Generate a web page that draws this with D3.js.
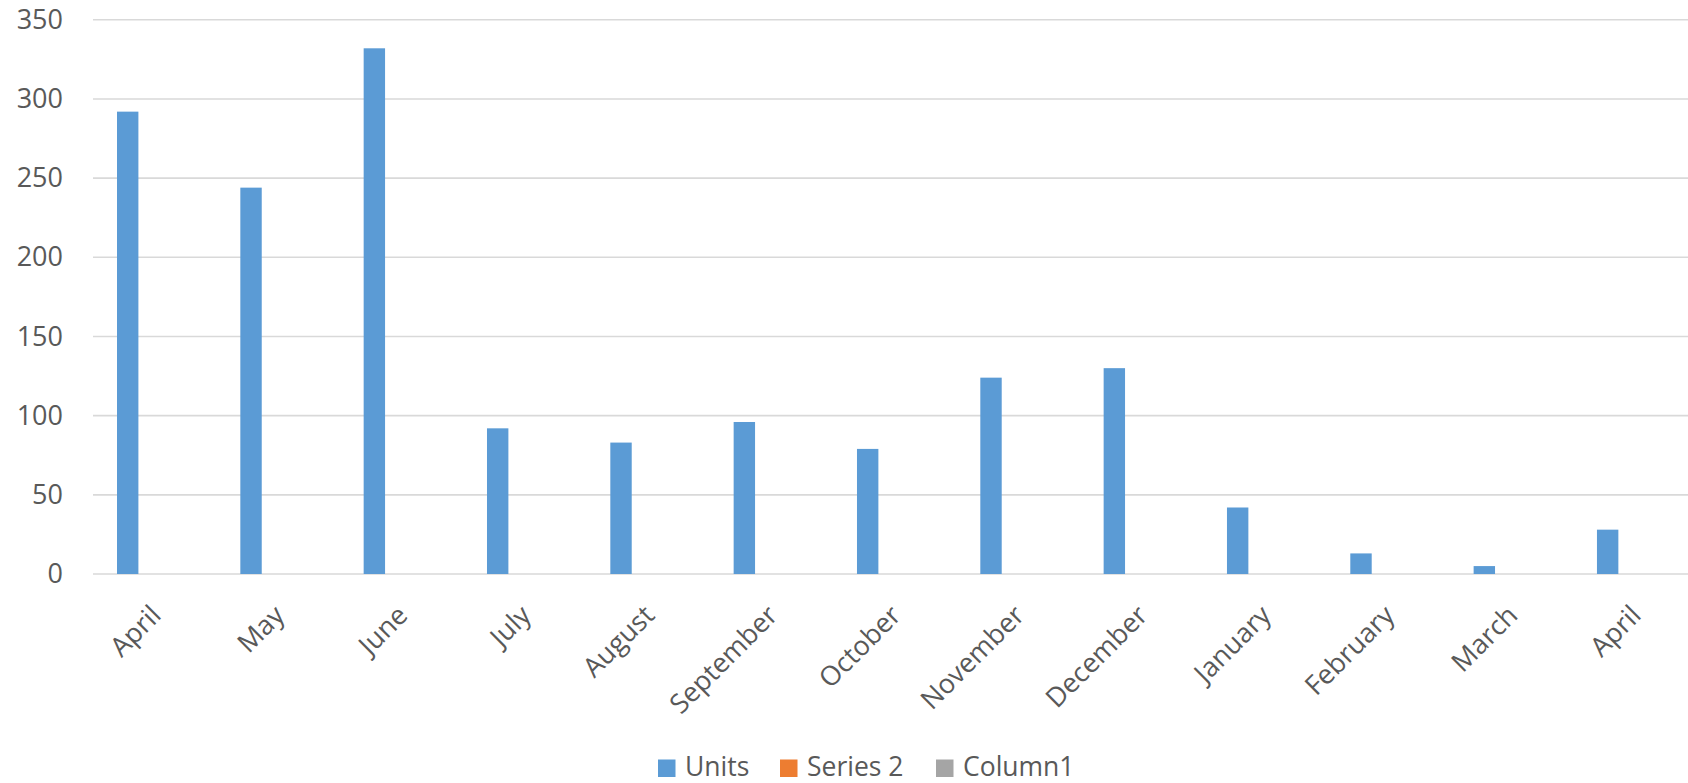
<!DOCTYPE html>
<html>
<head>
<meta charset="utf-8">
<script src="https://cdn.jsdelivr.net/npm/d3@7"></script>
<style>
  html, body { margin: 0; padding: 0; background: #fff; }
  svg { display: block; font-family: "Open Sans", Lato, sans-serif; }
</style>
</head>
<body>
<svg id="chart" width="1688" height="783"></svg>
<script>
const categories = ["April","May","June","July","August","September","October","November","December","January","February","March","April"];
const units = [292, 244, 332, 92, 83, 96, 79, 124, 130, 42, 13, 5, 28];
const series2 = [null, null, null, null, null, null, null, null, null, null, null, null, null];
const column1 = [null, null, null, null, null, null, null, null, null, null, null, null, null];
const seriesNames = ["Units", "Series 2", "Column1"];
const seriesColors = ["#5b9bd5", "#ed7d31", "#a5a5a5"];
const yTicks = [0, 50, 100, 150, 200, 250, 300, 350];

const svg = d3.select("#chart");
const plotLeft = 93, plotTop = 19.8, plotBottom = 574;
const band = 123.33;
const fontFam = "'Open Sans', Lato, sans-serif";

const x0 = d3.scaleBand().domain(d3.range(categories.length))
  .range([plotLeft, plotLeft + band * categories.length]).padding(0);
const x1 = d3.scaleBand().domain(seriesNames).range([24, 24 + 21.4 * 3]).padding(0);
const y = d3.scaleLinear().domain([0, 350]).range([plotBottom, plotTop]);

// gridlines
svg.append("g").selectAll("line").data(yTicks).join("line")
  .attr("x1", plotLeft).attr("x2", 1688)
  .attr("y1", d => y(d)).attr("y2", d => y(d))
  .attr("stroke", "#d9d9d9").attr("stroke-width", 1.6);

// y axis labels
const yAxis = d3.axisLeft(y).tickValues(yTicks).tickSize(0).tickPadding(0);
const gy = svg.append("g").attr("transform", "translate(63,0)").call(yAxis);
gy.select(".domain").remove();
gy.selectAll("text").attr("fill", "#595959").style("font-size", "27px")
  .style("font-family", fontFam);

// bars
const allSeries = [units, series2, column1];
allSeries.forEach((vals, si) => {
  svg.append("g").selectAll("rect")
    .data(vals.map((v, i) => ({ v, i })).filter(d => d.v != null))
    .join("rect")
    .attr("x", d => x0(d.i) + x1(seriesNames[si]))
    .attr("width", x1.bandwidth())
    .attr("y", d => y(d.v))
    .attr("height", d => y(0) - y(d.v))
    .attr("fill", seriesColors[si]);
});

// x labels
svg.append("g").selectAll("text").data(categories).join("text")
  .attr("transform", (d, i) => `translate(${x0(i) + band / 2 + 8},${617}) rotate(-45)`)
  .attr("text-anchor", "end")
  .attr("fill", "#595959")
  .style("font-size", "27px")
  .style("font-family", fontFam)
  .text(d => d);

// legend
const legendX = [658, 780, 936];
const lg = svg.append("g");
seriesNames.forEach((name, i) => {
  lg.append("rect").attr("x", legendX[i]).attr("y", 759.5).attr("width", 17.5).attr("height", 17.5)
    .attr("fill", seriesColors[i]);
  lg.append("text").attr("x", legendX[i] + 27).attr("y", 776)
    .attr("fill", "#595959").style("font-size", "26.5px").style("font-family", fontFam).text(name);
});
</script>
</body>
</html>
